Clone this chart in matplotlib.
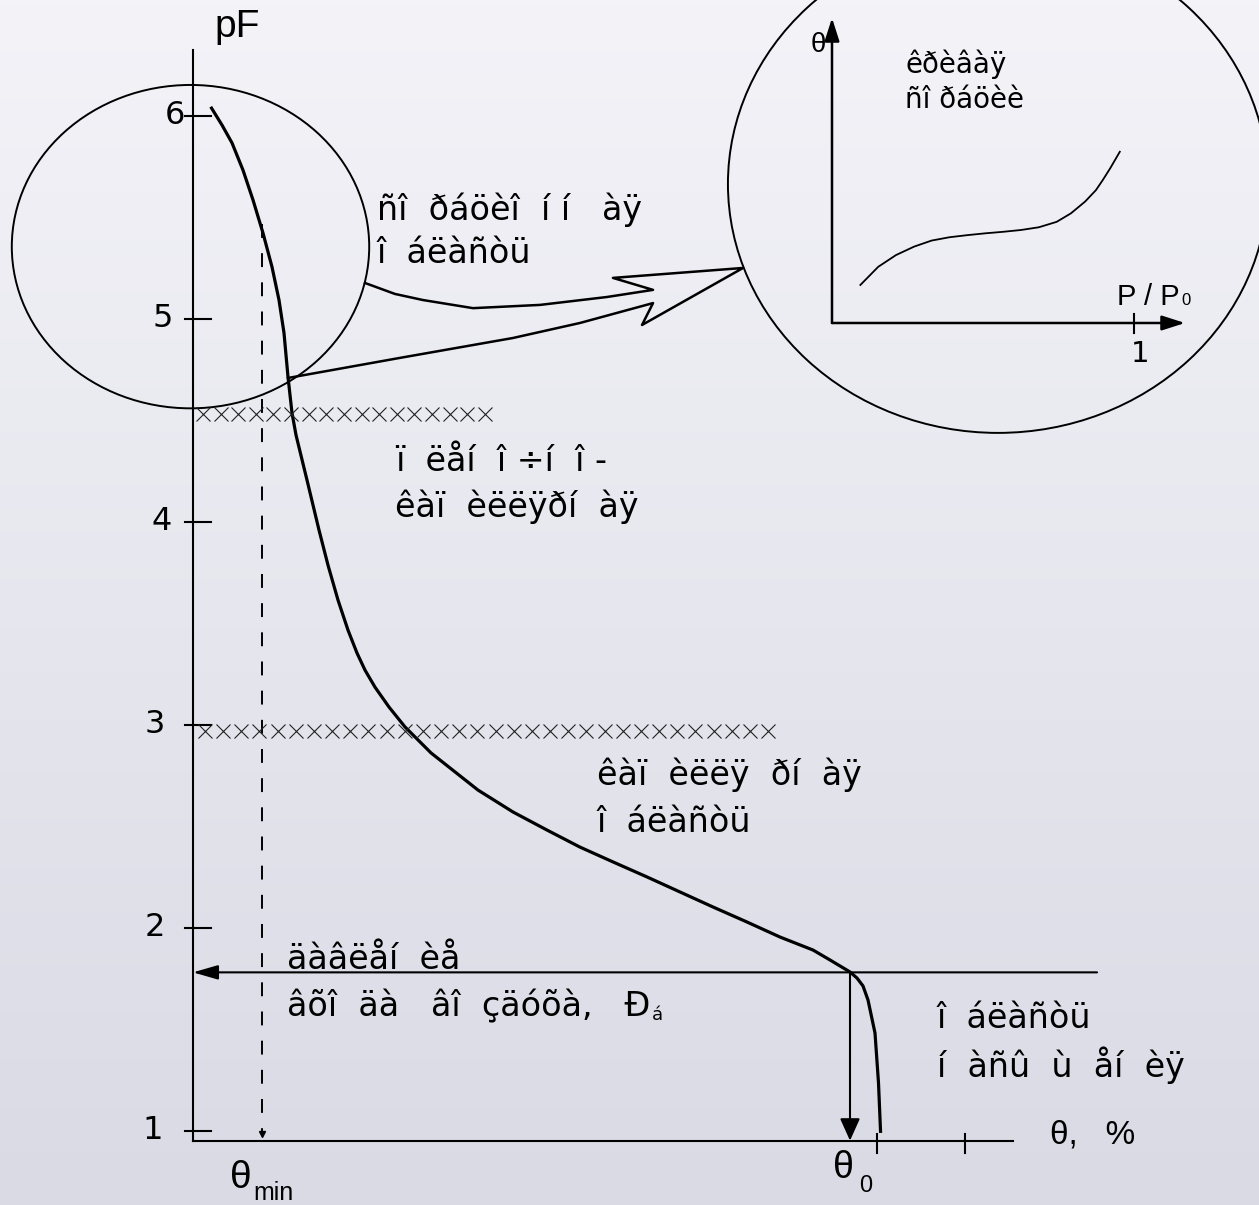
import numpy as np
import matplotlib
matplotlib.use('Agg')
import matplotlib.pyplot as plt
from matplotlib.patches import Ellipse

plt.rcParams['font.family'] = ['Liberation Sans', 'DejaVu Sans']
plt.rcParams['lines.scale_dashes'] = False

# water retention curve: moisture theta (%) against suction pF
theta = [1.347, 2.207, 2.968, 3.805, 4.566, 5.327, 6.012, 6.545, 6.925, 7.230,
         7.534, 7.839, 8.676, 9.589, 10.274, 11.035, 11.796, 12.481, 13.090,
         13.851, 14.916, 16.134, 18.113, 21.689, 24.353, 26.941, 29.452,
         31.963, 34.551, 37.062, 39.574, 42.161, 44.673, 47.184, 48.478,
         50.000, 50.533, 50.989, 51.370, 51.903, 52.169, 52.329]
pF = [6.044, 5.954, 5.866, 5.732, 5.585, 5.422, 5.255, 5.092, 4.930, 4.713,
      4.536, 4.427, 4.205, 3.959, 3.786, 3.614, 3.466, 3.353, 3.269, 3.185,
      3.087, 2.989, 2.861, 2.678, 2.570, 2.481, 2.397, 2.324, 2.250, 2.176,
      2.102, 2.028, 1.954, 1.890, 1.841, 1.782, 1.752, 1.713, 1.644, 1.481,
      1.235, 0.989]

pF_ticks = [1, 2, 3, 4, 5, 6]
pF_labels = ['1', '2', '3', '4', '5', '6']
theta_ticks = [52.05, 58.75]

theta_min = 5.25
theta_0 = 50.0
pF_b = 1.78          # air entry
pF_film = 4.53       # sorption / film boundary
pF_cap = 2.97        # film / capillary boundary

# sorption isotherm for the zoomed circle
p_rel = [0.094, 0.153, 0.212, 0.272, 0.330, 0.389, 0.449, 0.508, 0.567,
         0.626, 0.685, 0.744, 0.791, 0.838, 0.874, 0.897, 0.921, 0.953]
theta_sorb = [0.126, 0.186, 0.225, 0.253, 0.273, 0.284, 0.291, 0.297, 0.302,
              0.308, 0.317, 0.335, 0.363, 0.402, 0.440, 0.474, 0.512, 0.567]

txt_sorb = ['ñî  ðáöèî  í í   àÿ', 'î  áëàñòü']
txt_film = ['ï  ëåí  î ÷í  î -', 'êàï  èëëÿðí  àÿ']
txt_cap = ['êàï  èëëÿ  ðí  àÿ', 'î  áëàñòü']
txt_air = ['äàâëåí  èå', 'âõî  äà   âî  çäóõà,   Ð']
txt_sat = ['î  áëàñòü', 'í  àñû  ù  åí  èÿ']
txt_iso = ['êðèâàÿ', 'ñî ðáöèè']

W, H = 1259, 1205
fig = plt.figure(figsize=(W / 100, H / 100), dpi=100)
ax = fig.add_axes([0, 0, 1, 1])
xlim = (-14.688, 81.126)
ylim = (0.634, 6.570)

# soft vertical background shade
g = np.linspace(0, 1, 256)[:, None, None]
top = np.array([243, 243, 248]) / 255
bot = np.array([218, 218, 229]) / 255
ax.imshow(top + (bot - top) * g, extent=[*xlim, *ylim], aspect='auto',
          origin='upper', zorder=0)
ax.set_xlim(*xlim)
ax.set_ylim(*ylim)
ax.axis('off')

k = 'black'
wide = ['DejaVu Sans']

# axes
ax.plot([0, 0], [0.951, 6.324], color=k, lw=1.5)
ax.plot([0, 62.4], [0.951, 0.951], color=k, lw=1.5)
label_right = [-2.28, -2.13, -2.13, -1.60, -1.52, -0.61]
for v, lab, xr in zip(pF_ticks, pF_labels, label_right):
    ax.plot([-0.61, 1.37], [v, v], color=k, lw=1.5)
    ax.text(xr, v, lab, ha='right', va='center', fontsize=23, family=wide)
for t in theta_ticks:
    ax.plot([t, t], [0.983, 0.889], color=k, lw=1.5)
ax.text(1.67, 6.388, 'pF', fontsize=28, va='baseline')
ax.text(65.22, 0.939, 'θ,   %', fontsize=24, va='baseline')
ax.text(2.82, 0.718, 'θ', fontsize=28, va='baseline')
ax.text(4.57, 0.659, 'min', fontsize=18, va='baseline')
ax.text(48.71, 0.767, 'θ', fontsize=27, va='baseline')
ax.text(50.68, 0.698, '0', fontsize=17, va='baseline')

# main curve
ax.plot(theta, pF, color=k, lw=2.3, solid_capstyle='butt',
        solid_joinstyle='round')

# theta_min guide
ax.plot([theta_min, theta_min], [5.467, 0.99], color=k, lw=1.4,
        ls=(0, (10, 11)))
ax.plot(theta_min, 0.985, marker='v', ms=4, color=k)

# air-entry level and theta_0
left_arrow = dict(arrowstyle='-|>,head_length=0.45,head_width=0.13',
                  color=k, lw=1.5, mutation_scale=34, shrinkA=0, shrinkB=0)
down_arrow = dict(arrowstyle='-|>,head_length=0.4,head_width=0.18',
                  color=k, lw=1.5, mutation_scale=34, shrinkA=0, shrinkB=0)
ax.annotate('', xy=(0, pF_b), xytext=(68.8, pF_b), arrowprops=left_arrow)
ax.annotate('', xy=(theta_0, 0.951), xytext=(theta_0, pF_b),
            arrowprops=down_arrow)

# boundary rows of crosses
ax.plot(np.linspace(0.76, 22.22, 17), [pF_film] * 17, ls='none', marker='x',
        ms=10.5, mew=0.8, color='#222222')
ax.plot(np.linspace(0.91, 43.76, 32), [pF_cap] * 32, ls='none', marker='x',
        ms=10.5, mew=0.8, color='#222222')


# region labels
def block(x, ys, lines, size=24):
    out = []
    for y, s in zip(ys, lines):
        out.append(ax.text(x, y, s, fontsize=size, va='baseline', family=wide))
    return out


block(14.0, [5.486, 5.274], txt_sorb)
block(15.37, [4.251, 4.023], txt_film)
block(30.75, [2.703, 2.472], txt_cap)
air = block(7.15, [1.797, 1.561], txt_air)
ax.annotate('á', xy=(1, 0), xycoords=air[1], xytext=(1, 0),
            textcoords='offset points', fontsize=13, va='bottom', family=wide)
block(56.62, [1.506, 1.264], txt_sat)

# zoom circles and the callout arrow between them
ax.add_patch(Ellipse((-0.19, 5.355), 27.2, 1.593, fill=False, color=k, lw=1.4))
ax.add_patch(Ellipse((61.26, 5.664), 41.1, 2.453, fill=False, color=k, lw=1.4))
ox = [13.09, 15.37, 17.50, 21.31, 26.41, 31.51, 35.01, 31.96, 41.86, 34.17,
      35.01, 29.45, 24.35, 15.75, 7.23]
oy = [5.176, 5.122, 5.092, 5.052, 5.068, 5.107, 5.142, 5.201, 5.250, 4.969,
      5.077, 4.979, 4.905, 4.807, 4.708]
ax.plot(ox, oy, color=k, lw=1.8, solid_joinstyle='round')

# inset: sorption isotherm
ins = fig.add_axes([832 / W, 1 - 323 / H, 368 / W, 313 / H])
ins.set_xlim(0, 368 / 302)
ins.set_ylim(0, 313 / 302)
ins.axis('off')
ins.patch.set_alpha(0)
small = dict(arrowstyle='-|>,head_length=0.5,head_width=0.16',
             color=k, lw=1.8, mutation_scale=28, shrinkA=0, shrinkB=0)
ins.annotate('', xy=(0, 1.01), xytext=(0, 0), arrowprops=small)
ins.annotate('', xy=(1.169, 0), xytext=(0, 0), arrowprops=small)
ins.plot([1, 1], [-0.033, 0.03], color=k, lw=1.5, clip_on=False)
ins.plot(p_rel, theta_sorb, color=k, lw=1.3)
ins.text(-0.046, 0.92, 'θ', fontsize=20, ha='center', va='center')
ins.text(1.02, -0.056, '1', fontsize=21, ha='center', va='top', family=wide)
ins.text(0.944, 0.06, 'P / P', fontsize=21, va='baseline')
ins.text(1.156, 0.06, '0', fontsize=12, va='baseline')
ins.text(0.242, 0.828, txt_iso[0], fontsize=20, va='baseline', family=wide)
ins.text(0.242, 0.712, txt_iso[1], fontsize=20, va='baseline', family=wide)

fig.savefig('out.png', dpi=100)
